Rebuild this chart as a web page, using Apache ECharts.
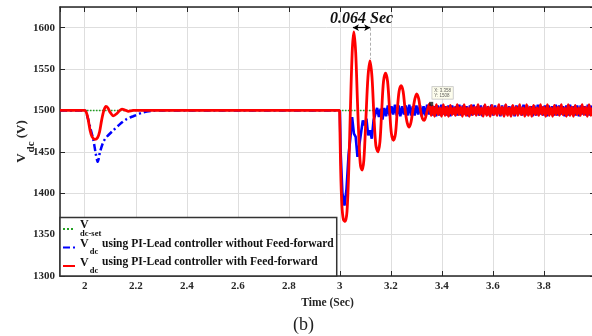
<!DOCTYPE html>
<html><head><meta charset="utf-8">
<script src="https://cdn.jsdelivr.net/npm/echarts@6/dist/echarts.min.js"></script>
<style>html,body{margin:0;padding:0;background:#fff}#c{width:592px;height:336px}</style>
</head><body><div id="c"></div>
<script>
// ---------- data ----------
const seriesNames = [
  'Vdc-set',
  'Vdc using PI-Lead controller without Feed-forward',
  'Vdc using PI-Lead controller with Feed-forward'
];
// set-point
const setT = [1.903, 4.0];
const setV = [1500, 1500];
// blue: without feed-forward (first event)
const blueEarlyT = [1.903, 2.000, 2.010, 2.021, 2.034, 2.043, 2.051, 2.060, 2.073, 2.086, 2.112, 2.138, 2.164, 2.190, 2.229, 2.268, 2.300, 3.000];
const blueEarlyV = [1500, 1500, 1493, 1480, 1464, 1448, 1438, 1450, 1462, 1468, 1476, 1483.5, 1489.5, 1493, 1497.6, 1499.6, 1500, 1500];
// blue: second event drop
const blueDropT = [3.000, 3.003, 3.010, 3.018, 3.026];
const blueDropV = [1500, 1450, 1400, 1385, 1405];
// blue: oscillation with ripple, sampled every blueStep from blueStart
const blueStart = 3.034, blueStep = 0.007;
const blueRippleV = [
  1446,1466,1492,1472,1468,1444,1458,1460,1488,1482,
  1490,1470,1476,1466,1488,1486,1503,1492,1502,1489,
  1503,1493,1506,1494,1505,1495,1507,1494,1506,1493,
  1505,1495,1506,1494,1507,1494,1505,1494,1506,1495,
  1506,1493,1505,1494,1507,1495,1506,1494,1505,1493,
  1506,1494,1507,1495,1505,1494,1506,1493,1506,1495,
  1505,1494,1507,1494,1506,1495,1505,1493,1506,1494,
  1507,1495,1505,1494,1506,1493,1506,1495,1505,1494,
  1507,1494,1506,1495,1505,1493,1506,1494,1507,1495,
  1505,1494,1506,1493,1506,1495,1505,1494,1507,1494,
  1506,1495,1505,1493,1506,1494,1507,1495,1505,1494,
  1506,1493,1506,1495,1505,1494,1507,1494,1506,1495,
  1505,1493,1506,1494,1507,1495,1505,1494,1506,1493,
  1506,1495,1505,1494,1507,1494,1506
];
// red: with feed-forward
const redT = [1.903, 2.000, 2.007, 2.014, 2.021, 2.029, 2.040, 2.050, 2.058, 2.066, 2.075, 2.083, 2.091, 2.099, 2.112, 2.125, 2.137, 2.146, 2.158, 2.171, 2.190, 2.300, 2.999,
  3.000, 3.003, 3.008, 3.014, 3.021, 3.028, 3.035, 3.042, 3.049, 3.055, 3.062, 3.069, 3.076, 3.081, 3.087, 3.094, 3.102, 3.110, 3.118, 3.126, 3.134, 3.141, 3.149, 3.157, 3.164, 3.171, 3.179, 3.187, 3.195, 3.202, 3.210, 3.218, 3.225, 3.232, 3.240, 3.248, 3.256, 3.264, 3.272, 3.279, 3.286, 3.294, 3.301, 3.309, 3.316, 3.324, 3.331, 3.341];
const redV = [1500, 1500, 1497, 1488, 1476, 1468, 1465, 1467, 1474, 1488, 1500, 1505, 1503, 1498, 1493.5, 1496, 1500, 1501.5, 1500.5, 1499, 1500, 1500, 1500,
  1500, 1430, 1385, 1368, 1366, 1378, 1430, 1510, 1575, 1595, 1570, 1510, 1455, 1433, 1428, 1440, 1490, 1540, 1560, 1540, 1490, 1458, 1450, 1462, 1500, 1535, 1545, 1535, 1500, 1472, 1464, 1472, 1500, 1523, 1530, 1523, 1500, 1485, 1480, 1486, 1500, 1514, 1520, 1514, 1500, 1490, 1488, 1498];
// red: steady-state ripple, sampled every redStep from redStart
const redStart = 3.351, redStep = 0.0068;
const redRippleV = [
  1508,1494,1505,1493, 1507,1495,1503,1493, 1507,1494,1504,1493,
  1506,1495,1503,1494, 1507,1495,1504,1493, 1507,1494,1503,1493,
  1506,1495,1504,1494, 1507,1495,1503,1493, 1507,1494,1504,1493,
  1506,1495,1503,1494, 1507,1495,1504,1493, 1507,1494,1503,1493,
  1506,1495,1504,1494, 1507,1495,1503,1493, 1507,1494,1504,1493,
  1506,1495,1503,1494, 1507,1495,1504,1493, 1507,1494,1503,1493,
  1506,1495,1504,1494, 1507,1495,1503,1493, 1507,1494,1504,1493,
  1506,1495,1503,1494, 1507,1495,1504,1493, 1507,1494,1503,1493
];
// data tip and period annotation
const tipT = 3.358, tipV = 1508;
const periodStart = 3.051, periodEnd = 3.119, periodLevel = 1600, peak2Level = 1562;
const periodText = '0.064 Sec';

// ---------- build ----------
const zip = (t, v) => t.map((x, i) => [x, v[i]]);
const sampled = (s, d, v) => v.map((y, i) => [+(s + i * d).toFixed(4), y]);
const FONT = '"Liberation Serif","Times New Roman",serif';
const AX = '#262626';

const chart = echarts.init(document.getElementById('c'), null, {renderer: 'canvas'});

const legendFormatter = name => {
  if (name === seriesNames[0]) return '{v1|V}\n{s1|dc-set}';
  return '{v|V}{s|dc}{t| ' + name.slice(4) + '}';
};

const option = {
  animation: false,
  backgroundColor: '#fff',
  grid: {left: 60, right: -3, top: 7, bottom: 60, containLabel: false, outerBoundsMode: 'none'},
  xAxis: [{
    type: 'value', min: 1.903, max: 4.0, splitNumber: 10, position: 'bottom',
    axisLine: {show: true, onZero: false, lineStyle: {color: AX, width: 1.5}},
    axisTick: {show: true, inside: true, length: 5, lineStyle: {color: AX, width: 1}},
    axisLabel: {showMinLabel: false, showMaxLabel: false, fontFamily: FONT, fontWeight: 'bold', fontSize: 11, color: AX, margin: 5,
      formatter: v => String(+v.toFixed(2))},
    splitLine: {show: true, lineStyle: {color: '#dedede', width: 1}},
    name: 'Time (Sec)', nameLocation: 'middle', nameGap: 21, nameMoveOverlap: false,
    nameTextStyle: {fontFamily: FONT, fontWeight: 'bold', fontSize: 11.5, color: AX}
  }, {
    type: 'value', min: 1.903, max: 4.0, splitNumber: 10, position: 'top',
    axisLine: {show: true, onZero: false, lineStyle: {color: AX, width: 1.5}},
    axisTick: {show: true, inside: true, length: 5, lineStyle: {color: AX, width: 1}},
    axisLabel: {show: false}, splitLine: {show: false}
  }],
  yAxis: [{
    type: 'value', min: 1300, max: 1625, interval: 50, position: 'left',
    axisLine: {show: true, onZero: false, lineStyle: {color: AX, width: 1.5}},
    axisTick: {show: true, inside: true, length: 5, lineStyle: {color: AX, width: 1}},
    axisLabel: {showMaxLabel: false, fontFamily: FONT, fontWeight: 'bold', fontSize: 11, color: AX, margin: 5,
      formatter: v => String(v)},
    splitLine: {show: true, lineStyle: {color: '#dedede', width: 1}},
    name: '{v|V}{s|dc}{n| (V)}', nameLocation: 'middle', nameGap: 23, nameMoveOverlap: false,
    nameTextStyle: {
      color: AX,
      rich: {
        v: {fontFamily: FONT, fontWeight: 'bold', fontSize: 13, color: AX, padding: [0, 0, 9, 0]},
        s: {fontFamily: FONT, fontWeight: 'bold', fontSize: 11, color: AX, padding: [10, 0, 0, 1]},
        n: {fontFamily: FONT, fontWeight: 'bold', fontSize: 13, color: AX, padding: [0, 0, 9, 0]}
      }
    }
  }, {
    type: 'value', min: 1300, max: 1625, interval: 50, position: 'right',
    axisLine: {show: true, onZero: false, lineStyle: {color: AX, width: 1.5}},
    axisTick: {show: true, inside: true, length: 5, lineStyle: {color: AX, width: 1}},
    axisLabel: {show: false}, splitLine: {show: false}
  }],
  legend: {
    data: seriesNames, orient: 'vertical', left: 60, bottom: 60,
    backgroundColor: '#fff', borderColor: '#333', borderWidth: 1.5, borderRadius: 0,
    padding: [1, 3, 1, 2], itemGap: 0, itemWidth: 12, itemHeight: 10,
    itemStyle: {opacity: 0},
    formatter: legendFormatter,
    textStyle: {
      color: '#111',
      rich: {
        v: {fontFamily: FONT, fontWeight: 'bold', fontSize: 12, color: '#111', padding: [0, 0, 7, 0]},
        s: {fontFamily: FONT, fontWeight: 'bold', fontSize: 8.5, color: '#111', padding: [9, 1, 0, 1]},
        t: {fontFamily: FONT, fontWeight: 'bold', fontSize: 11.5, color: '#111', padding: [0, 0, 7, 0]},
        v1: {fontFamily: FONT, fontWeight: 'bold', fontSize: 12, color: '#111', lineHeight: 9},
        s1: {fontFamily: FONT, fontWeight: 'bold', fontSize: 8.5, color: '#111', lineHeight: 9}
      }
    }
  },
  series: [{
    name: seriesNames[0], type: 'line', data: zip(setT, setV), symbol: 'none',
    lineStyle: {color: '#22a022', width: 1.5, type: 'dotted'}, itemStyle: {color: '#22a022'}, z: 2
  }, {
    name: seriesNames[1], type: 'line', data: zip(blueEarlyT, blueEarlyV), symbol: 'none', smooth: 0.3,
    lineStyle: {color: '#0000ff', width: 2.5, type: [7, 3, 2, 3]}, itemStyle: {color: '#0000ff'}, z: 3
  }, {
    name: seriesNames[1], type: 'line',
    data: zip(blueDropT, blueDropV).concat(sampled(blueStart, blueStep, blueRippleV)),
    symbol: 'none', lineStyle: {color: '#0000ff', width: 2.6}, itemStyle: {color: '#0000ff'}, z: 3
  }, {
    name: seriesNames[2], type: 'line',
    data: zip(redT, redV).concat(sampled(redStart, redStep, redRippleV)),
    symbol: 'none', smooth: 0.3,
    lineStyle: {color: '#ff0000', width: 2.8}, itemStyle: {color: '#ff0000'}, z: 4
  }, {
    name: 'datatip', type: 'scatter', data: [[tipT, tipV]], symbol: 'rect', symbolSize: 4,
    itemStyle: {color: '#111'}, z: 6,
    label: {
      show: true, position: [3, -15], formatter: 'X: ' + tipT + '\nY: ' + tipV,
      fontSize: 4.5, lineHeight: 5, color: '#333', fontFamily: 'Arial, sans-serif',
      backgroundColor: '#fdfde8', borderColor: '#aaa', borderWidth: 0.6, padding: [1, 2, 1, 2]
    },
    markLine: {
      silent: true, symbol: ['arrow', 'arrow'], symbolSize: [5, 6], animation: false,
      lineStyle: {color: '#000', width: 1.2, type: 'solid'},
      label: {show: true, position: 'middle', formatter: periodText, distance: 1,
        fontFamily: FONT, fontWeight: 'bold', fontStyle: 'italic', fontSize: 16, color: '#111'},
      data: [
        [{coord: [periodStart, periodLevel]}, {coord: [periodEnd, periodLevel]}],
        [{coord: [periodEnd, periodLevel], symbol: 'none', lineStyle: {color: '#999', width: 0.8, type: [3, 2]}, label: {show: false}},
         {coord: [periodEnd, peak2Level], symbol: 'none'}]
      ]
    }
  }],
  graphic: [{
    type: 'text', left: 293, top: 316,
    style: {text: '(b)', font: '18px "Liberation Serif", serif', fill: '#222'}
  }]
};
chart.setOption(option);
</script>
</body></html>
